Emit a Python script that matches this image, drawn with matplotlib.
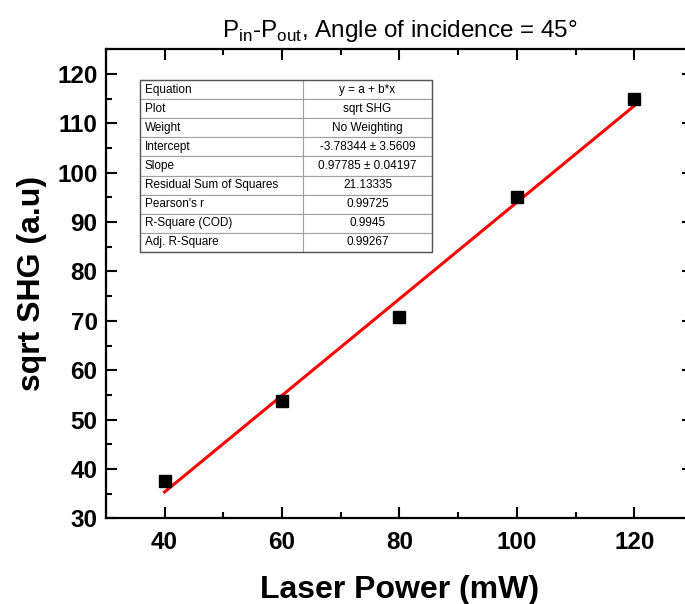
import numpy as np
import matplotlib
matplotlib.use('Agg')
import matplotlib.pyplot as plt
from matplotlib.ticker import MultipleLocator

plt.rcParams['font.family'] = ['Liberation Sans', 'DejaVu Sans']
plt.rcParams['mathtext.fontset'] = 'custom'
plt.rcParams['mathtext.rm'] = 'Liberation Sans'

# data
laser_power = [40, 60, 80, 100, 120]
sqrt_shg = [37.6, 53.8, 70.8, 95.0, 115.0]

# linear fit results (from the report table)
intercept = -3.78344
slope = 0.97785

table_labels = ['Equation', 'Plot', 'Weight', 'Intercept', 'Slope',
                'Residual Sum of Squares', "Pearson's r", 'R-Square (COD)',
                'Adj. R-Square']
table_values = ['y = a + b*x', 'sqrt SHG', 'No Weighting',
                '-3.78344 \u00b1 3.5609', '0.97785 \u00b1 0.04197',
                '21.13335', '0.99725', '0.9945', '0.99267']

fig = plt.figure(figsize=(6.85, 6.04), dpi=100)
ax = fig.add_axes([0.1546, 0.1419, 0.8571, 0.7765])

x = np.array(laser_power)
ax.plot(x, intercept + slope * x, color='red', lw=2.2, zorder=2)
ax.plot(laser_power, sqrt_shg, 's', color='black', ms=9, zorder=3)

ax.set_xlim(30, 130)
ax.set_ylim(30, 125)
ax.xaxis.set_major_locator(MultipleLocator(20))
ax.xaxis.set_minor_locator(MultipleLocator(10))
ax.yaxis.set_major_locator(MultipleLocator(10))
ax.yaxis.set_minor_locator(MultipleLocator(5))
ax.tick_params(which='both', direction='in', top=True, right=True, width=1.5)
ax.tick_params(which='major', length=8, labelsize=17.5)
ax.tick_params(axis='x', which='major', pad=9)
ax.tick_params(axis='y', which='major', pad=6)
ax.tick_params(which='minor', length=4.5)
for lab in ax.get_xticklabels() + ax.get_yticklabels():
    lab.set_fontweight('bold')
for sp in ax.spines.values():
    sp.set_linewidth(1.6)

ax.set_xlabel('Laser Power (mW)', fontsize=23, fontweight='bold', labelpad=15)
ax.set_ylabel('sqrt SHG (a.u)', fontsize=23, fontweight='bold', labelpad=7)
ax.set_title(r'P$_{\rm in}$-P$_{\rm out}$, Angle of incidence = 45°',
             fontsize=17.5, pad=9)

# fit report table
tb = ax.table(cellText=[[a, b] for a, b in zip(table_labels, table_values)],
              colWidths=[0.5, 0.5],
              bbox=[(140 - 105.9) / 587.1, (518.3 - 252) / 469.0,
                    (432 - 140) / 587.1, (252 - 80) / 469.0])
tb.auto_set_font_size(False)
tb.set_fontsize(8.5)
for (r, c), cell in tb.get_celld().items():
    cell.set_edgecolor('#a0a0a0')
    cell.set_linewidth(0.8)
    if c == 0:
        cell.set_width((303 - 140) / 587.1)
        cell.PAD = 0.03
        cell.get_text().set_ha('left')
        cell._loc = 'left'
    else:
        cell.set_width((432 - 303) / 587.1)
        cell.get_text().set_ha('center')
        cell._loc = 'center'

# darker outer border of the table
ax.add_patch(plt.Rectangle(((140 - 105.9) / 587.1, (518.3 - 252) / 469.0),
                           (432 - 140) / 587.1, (252 - 80) / 469.0,
                           transform=ax.transAxes, fill=False,
                           edgecolor='#555555', lw=1.0, zorder=10))

fig.savefig('out.png', dpi=100)
